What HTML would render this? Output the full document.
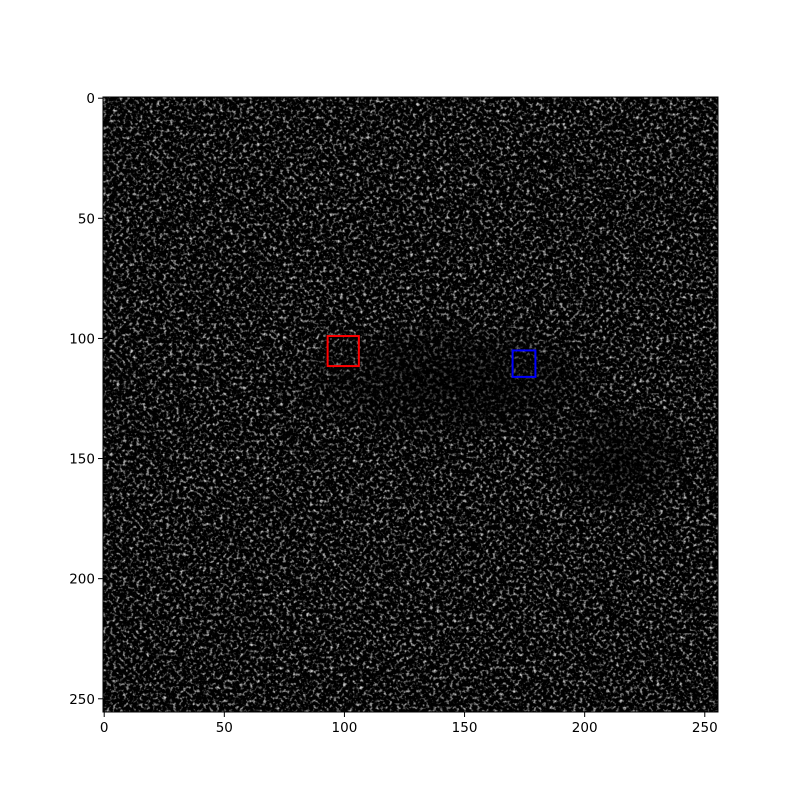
<!DOCTYPE html>
<html>
<head>
<meta charset="utf-8">
<style>
  html,body{margin:0;padding:0;background:#fff;}
  svg{display:block;}
  text{font-family:"DejaVu Sans","Liberation Sans",sans-serif;font-size:13.5px;fill:#000;}
</style>
</head>
<body>
<svg id="chart" width="800" height="800" viewBox="0 0 800 800">
  <defs>
    <filter id="speckle" x="0" y="0" width="100%" height="100%" color-interpolation-filters="sRGB">
      <feTurbulence type="fractalNoise" baseFrequency="0.3" numOctaves="2" seed="7" result="t"/>
      <feColorMatrix in="t" type="matrix"
        values="3.0 0 0 0 -1.55
                3.0 0 0 0 -1.55
                3.0 0 0 0 -1.55
                0 0 0 0 1"/>
    </filter>
    <radialGradient id="darkCenter" cx="0.5" cy="0.5" r="0.5">
      <stop offset="0" stop-color="#000" stop-opacity="0.6"/>
      <stop offset="0.6" stop-color="#000" stop-opacity="0.35"/>
      <stop offset="1" stop-color="#000" stop-opacity="0"/>
    </radialGradient>
    <clipPath id="imgClip"><rect x="103" y="97" width="615" height="615"/></clipPath>
  </defs>
  <g id="plot"></g>
</svg>
<script>
const xTicks = [0, 50, 100, 150, 200, 250];
const yTicks = [0, 50, 100, 150, 200, 250];
const boxX = [93, 170];
const boxY = [99, 105];
const boxW = [13, 9.5];
const boxH = [12.5, 11];
const boxColors = ["#ff0000", "#0000ff"];
const boxNames = ["red-roi-box", "blue-roi-box"];
const darkCx = [145, 215];
const darkCy = [118, 150];
const darkRx = [75, 35];
const darkRy = [28, 25];

const L = 103, T = 97, S = 615, N = 256;
const sx = v => L + (v + 0.5) * S / N;
const sy = v => T + (v + 0.5) * S / N;
const NS = "http://www.w3.org/2000/svg";
const g = document.getElementById("plot");
function mk(tag, attrs, parent) {
  const e = document.createElementNS(NS, tag);
  for (const k in attrs) e.setAttribute(k, attrs[k]);
  (parent || g).appendChild(e);
  return e;
}

const img = mk("g", {"clip-path": "url(#imgClip)"});


mk("rect", {x: L, y: T, width: S, height: S, fill: "#0a0a0a"}, img);
mk("rect", {x: L, y: T, width: S, height: S, filter: "url(#speckle)", opacity: "0.8"}, img);
darkCx.forEach((c, i) => {
  const e = mk("ellipse", {cx: sx(c), cy: sy(darkCy[i]), rx: darkRx[i] * S / N, ry: darkRy[i] * S / N, fill: "url(#darkCenter)"}, img);
  
  
});

boxX.forEach((bx, i) => {
  const r = mk("rect", {x: sx(bx), y: sy(boxY[i]), width: boxW[i] * S / N, height: boxH[i] * S / N,
    fill: "none", stroke: boxColors[i], "stroke-width": 2});
  
  
});

const frame = mk("rect", {x: L, y: T, width: S, height: S, fill: "none", stroke: "#000", "stroke-width": 1});



xTicks.forEach(v => {
  const x = sx(v);
  const tk = mk("line", {x1: x, x2: x, y1: T + S, y2: T + S + 5, stroke: "#000", "stroke-width": 1});
  
  
  const t = mk("text", {x: x, y: T + S + 20, "text-anchor": "middle"});
  t.textContent = v;
  
  
});
yTicks.forEach(v => {
  const y = sy(v);
  const tk = mk("line", {x1: L - 5, x2: L, y1: y, y2: y, stroke: "#000", "stroke-width": 1});
  
  
  const t = mk("text", {x: L - 8, y: y + 5, "text-anchor": "end"});
  t.textContent = v;
  
  
});
</script>
</body>
</html>
